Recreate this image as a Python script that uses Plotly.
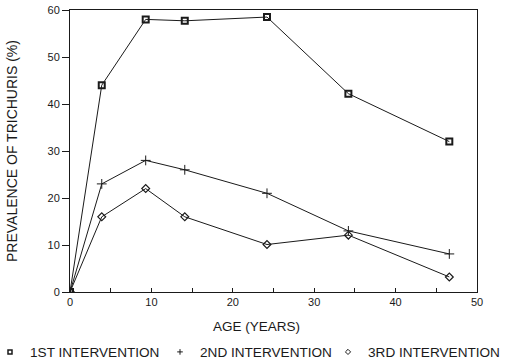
import plotly.graph_objects as go

age = [0, 3.9, 9.3, 14.1, 24.2, 34.2, 46.6]
first = [0, 44, 58, 57.7, 58.5, 42.2, 32]
second = [0, 23, 28, 26, 21, 13, 8.1]
third = [0, 16, 22, 16, 10.1, 12.1, 3.2]
names = ["1ST INTERVENTION", "2ND INTERVENTION", "3RD INTERVENTION"]
x_ticks = [0, 10, 20, 30, 40, 50]
y_ticks = [0, 10, 20, 30, 40, 50, 60]
x_title = "AGE (YEARS)"
y_title = "PREVALENCE OF TRICHURIS (%)"

FONT = "Liberation Sans"
INK = "#1a1a1a"

series = [
    (first, dict(symbol="square-open", size=6, color=INK, line=dict(width=2, color=INK))),
    (second, dict(symbol="cross-thin-open", size=7, color=INK, line=dict(width=1, color=INK))),
    (third, dict(symbol="diamond-open", size=6, color=INK, line=dict(width=1.2, color=INK))),
]
legend_markers = [
    dict(symbol="square-open", size=4, color=INK, line=dict(width=1.5, color=INK)),
    dict(symbol="cross-thin-open", size=4, color=INK, line=dict(width=1, color=INK)),
    dict(symbol="diamond-open", size=4, color=INK, line=dict(width=1, color=INK)),
]
legend_ids = ["legend", "legend2", "legend3"]

fig = go.Figure()
for (vals, mk), nm in zip(series, names):
    fig.add_trace(go.Scatter(x=age, y=vals, mode="lines+markers", name=nm,
                             line=dict(color=INK, width=1), marker=mk,
                             showlegend=False))
for nm, lm, lid in zip(names, legend_markers, legend_ids):
    fig.add_trace(go.Scatter(x=[None], y=[None], mode="markers", name=nm,
                             marker=lm, showlegend=True, legend=lid))

W_PLOT = 407.0
def lx(px):
    return (px - 70) / W_PLOT

leg_common = dict(orientation="h", xanchor="left", y=-0.213, yanchor="middle",
                  font=dict(size=13.6, family=FONT, color=INK),
                  itemwidth=30, bgcolor="rgba(0,0,0,0)", borderwidth=0)

fig.update_layout(
    width=505, height=363,
    margin=dict(l=70, r=28, t=10, b=71, autoexpand=False),
    paper_bgcolor="white", plot_bgcolor="white",
    font=dict(family=FONT, color=INK, size=11),
    legend=dict(leg_common, x=lx(12 - 22)),
    legend2=dict(leg_common, x=lx(182 - 22)),
    legend3=dict(leg_common, x=lx(350 - 22)),
    annotations=[dict(text=x_title, xref="paper", yref="paper",
                      x=lx(256), y=(292 - 326) / 282.0, xanchor="center", yanchor="middle",
                      showarrow=False, font=dict(size=13.5, family=FONT, color=INK))],
)
fig.update_xaxes(range=[0, 50], tickmode="array", tickvals=x_ticks,
                 showgrid=False, zeroline=False, automargin=False,
                 showline=True, linecolor=INK, linewidth=1, mirror=True,
                 ticks="inside", ticklen=4, tickcolor=INK,
                 minor=dict(ticks="inside", ticklen=4, dtick=5, tickcolor=INK),
                 tickfont=dict(size=11, family=FONT))
fig.update_yaxes(range=[0, 60], tickmode="array", tickvals=y_ticks,
                 showgrid=False, zeroline=False, automargin=False,
                 showline=True, linecolor=INK, linewidth=1, mirror=True,
                 ticks="outside", ticklen=7, tickcolor=INK,
                 tickfont=dict(size=11, family=FONT),
                 title=dict(text=y_title, font=dict(size=14, family=FONT), standoff=26))

fig.write_html("out.html")
